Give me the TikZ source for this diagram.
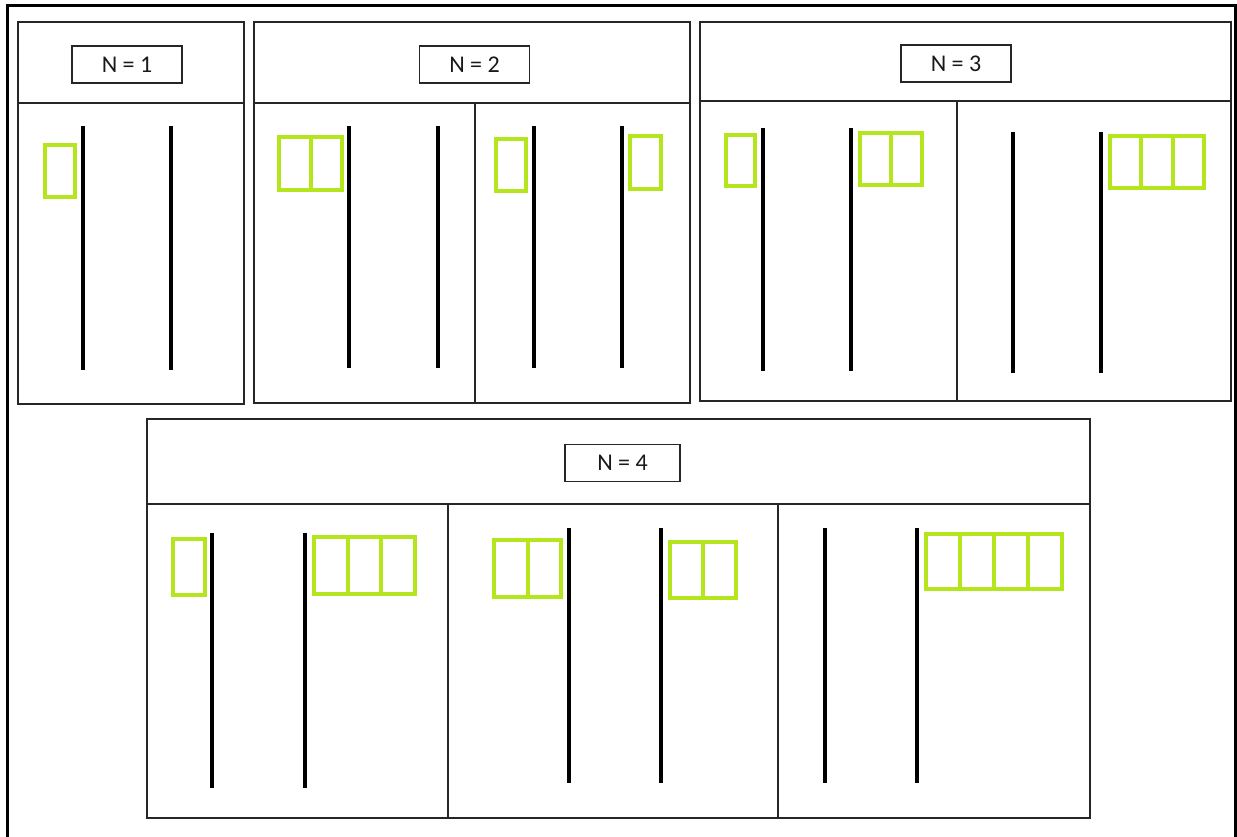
\documentclass[tikz,border=0pt]{standalone}
\usepackage{fontspec}
\setmainfont{Carlito}
\usepackage{xcolor}
\usetikzlibrary{positioning}

\definecolor{flaggreen}{HTML}{B5E61D}

\begin{document}
\begin{tikzpicture}[x=1pt, y=-1pt,
  panel/.style={draw=black!85, line width=1.5pt},
  pole/.style={draw=black, line width=4pt},
  flag/.style={draw=flaggreen, line width=4pt},
  tag/.style={draw=black!85, line width=1.5pt, minimum width=110pt, minimum height=37pt,
    inner sep=0pt, font=\fontsize{24}{28}\selectfont, text=black!90}]

\useasboundingbox (0,0) rectangle (1237,836);

% Outer frame
\draw[line width=3pt] (7,845) -- (7,5) -- (1235,5) -- (1235,845);

% Panel N = 1
\draw[panel] (18,22) rectangle (244,404);
\draw[panel] (18,103) -- (244,103);
\node[tag] (lab1) at (127,64.5) {N = 1};

% Panel N = 2
\draw[panel] (254,22) rectangle (690,403);
\draw[panel] (254,103) -- (690,103);
\draw[panel] (475,103) -- (475,403);
\node[tag] (lab2) at (474.5,64.5) {N = 2};

% Panel N = 3
\draw[panel] (700,22) rectangle (1231,401);
\draw[panel] (700,101) -- (1231,101);
\draw[panel] (957,101) -- (957,401);
\node[tag] (lab3) at (956,63.5) {N = 3};

% Panel N = 4
\draw[panel] (147,419) rectangle (1090,818);
\draw[panel] (147,504) -- (1090,504);
\draw[panel] (448,504) -- (448,818);
\draw[panel] (778,504) -- (778,818);
\node[tag, minimum width=115pt] (lab4) at (622.5,463) {N = 4};

% Poles
\foreach \x/\ya/\yb in {83/126/370, 171/126/370,
    349/126/368, 438/126/368, 534/126/368, 622/126/368,
    763/128/371, 851/128/371, 1013/132/373, 1101/132/373,
    212/533/788, 305/533/788, 569/528/783, 661/528/783, 825/528/783, 917/528/783}
  \draw[pole] (\x,\ya) -- (\x,\yb);

% Flags (left, top, right, bottom, number of cells)
\foreach \xa/\ya/\xb/\yb/\n in {45/145/75/197/1,
    279/137/342/190/2, 496/139/526/191/1, 630/136/661/189/1,
    726/135/755/186/1, 860/133/922/185/2, 1110/136/1204/188/3,
    173/539/205/595/1, 314/537/415/594/3, 494/540/561/597/2,
    670/542/736/598/2, 926/534/1062/589/4} {
  \pgfmathsetmacro\w{(\xb-\xa)/\n}
  \foreach \k in {1,...,\n}
    \draw[flag] ({\xa+(\k-1)*\w},\ya) rectangle ({\xa+\k*\w},\yb);
}

\end{tikzpicture}
\end{document}
